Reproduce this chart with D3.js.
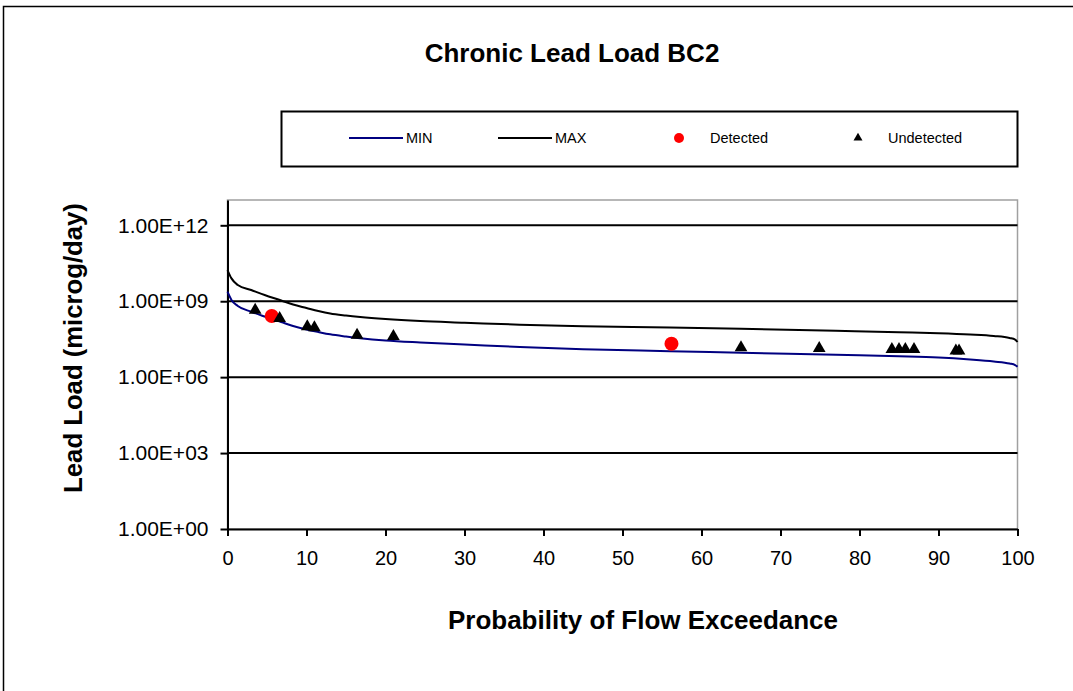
<!DOCTYPE html>
<html>
<head>
<meta charset="utf-8">
<script src="https://cdn.jsdelivr.net/npm/d3@7"></script>
<style>
  html, body { margin: 0; padding: 0; background: #fff; }
  svg { display: block; font-family: "Liberation Sans", Arial, sans-serif; }
</style>
</head>
<body>
<svg id="chart" width="1073" height="691"></svg>
<script>
// ---- data ----
const titleText = "Chronic Lead Load BC2";
const xTitle = "Probability of Flow Exceedance";
const yTitle = "Lead Load (microg/day)";

const xTicks = [0, 10, 20, 30, 40, 50, 60, 70, 80, 90, 100];
const yTicks = [1e0, 1e3, 1e6, 1e9, 1e12];
const yTickLabels = ["1.00E+00", "1.00E+03", "1.00E+06", "1.00E+09", "1.00E+12"];

const curvePct = [0, 0.5, 1.3, 3, 4.7, 6.8, 8.3, 10, 11.5, 13, 15, 16.8, 20, 24.4, 30, 37, 45, 56, 65, 77, 85, 90, 94, 97, 99, 99.7, 100];
const maxLoad = [1.71e10, 8.0e9, 4.37e9, 2.77e9, 1.76e9, 1.07e9, 7.4e8, 5.4e8, 4.1e8, 3.27e8, 2.72e8, 2.38e8, 1.98e8, 1.65e8, 1.42e8, 1.18e8, 1.03e8, 9.1e7, 8.1e7, 6.8e7, 5.97e7, 5.45e7, 4.84e7, 4.22e7, 3.52e7, 3.07e7, 2.45e7];
const minLoad = [2.38e9, 1.12e9, 6.5e8, 3.85e8, 2.49e8, 1.51e8, 1.05e8, 7.6e7, 6.07e7, 4.93e7, 4.04e7, 3.46e7, 2.8e7, 2.34e7, 1.95e7, 1.55e7, 1.27e7, 1.06e7, 9.2e6, 7.6e6, 6.7e6, 5.97e6, 4.98e6, 4.15e6, 3.46e6, 3.02e6, 2.58e6];

const detectedPct = [5.6, 56.2];
const detectedLoad = [2.6e8, 2.1e7];

const undetectedPct = [3.5, 6.6, 10.1, 11.0, 16.4, 21.0, 65.0, 74.9, 84.1, 85.0, 85.8, 86.9, 92.2, 92.6];
const undetectedLoad = [4.5e8, 2.1e8, 1.0e8, 9.1e7, 4.6e7, 4.1e7, 1.48e7, 1.38e7, 1.26e7, 1.26e7, 1.26e7, 1.26e7, 1.1e7, 1.1e7];

const legendItems = ["MIN", "MAX", "Detected", "Undetected"];

// ---- layout ----
const svg = d3.select("#chart");
const L = 227.5, R = 1017.5, T = 200, B = 529;

const x = d3.scaleLinear().domain([0, 100]).range([L, R]);
const y = d3.scaleLog().domain([1, 1e13]).range([B, T]);

// outer border
svg.append("rect").attr("x", 3.5).attr("y", 6.5).attr("width", 1100).attr("height", 720)
  .attr("fill", "none").attr("stroke", "#000").attr("stroke-width", 1.5);

// title
svg.append("text").attr("x", 572).attr("y", 62).attr("text-anchor", "middle")
  .attr("font-size", 26).attr("font-weight", "bold").text(titleText);

// plot frame (gray top/right)
svg.append("rect").attr("x", L).attr("y", T).attr("width", R - L).attr("height", B - T)
  .attr("fill", "none").attr("stroke", "#a0a0a0").attr("stroke-width", 1.5);

// gridlines
svg.append("g").selectAll("line").data(yTicks.slice(1)).join("line")
  .attr("x1", L).attr("x2", R).attr("y1", d => y(d)).attr("y2", d => y(d))
  .attr("stroke", "#000").attr("stroke-width", 2);

// y axis
const yAxis = d3.axisLeft(y).tickValues(yTicks).tickFormat((d, i) => yTickLabels[i])
  .tickSizeInner(7).tickSizeOuter(0).tickPadding(12);
const gy = svg.append("g").attr("transform", `translate(${L},0)`).call(yAxis);
gy.select(".domain").attr("stroke", "#000").attr("stroke-width", 2);
gy.selectAll(".tick line").attr("stroke", "#000").attr("stroke-width", 2);
gy.selectAll(".tick text").attr("font-size", 21).attr("fill", "#000")
  .attr("font-family", "Liberation Sans, Arial, sans-serif");

// x axis
const xAxis = d3.axisBottom(x).tickValues(xTicks).tickSizeInner(7).tickSizeOuter(0).tickPadding(15);
const gx = svg.append("g").attr("transform", `translate(0,${B})`).call(xAxis);
gx.select(".domain").attr("stroke", "#000").attr("stroke-width", 2);
gx.selectAll(".tick line").attr("stroke", "#000").attr("stroke-width", 2);
gx.selectAll(".tick text").attr("font-size", 20).attr("fill", "#000")
  .attr("font-family", "Liberation Sans, Arial, sans-serif");

// axis titles
svg.append("text").attr("x", 643).attr("y", 629).attr("text-anchor", "middle")
  .attr("font-size", 26).attr("font-weight", "bold").text(xTitle);
svg.append("text").attr("transform", "translate(82,348) rotate(-90)").attr("text-anchor", "middle")
  .attr("font-size", 25.7).attr("font-weight", "bold").text(yTitle);

// curves
const line = d3.line().x(d => x(d[0])).y(d => y(d[1])).curve(d3.curveMonotoneX);
svg.append("path").datum(curvePct.map((p, i) => [p, maxLoad[i]]))
  .attr("d", line).attr("fill", "none").attr("stroke", "#000").attr("stroke-width", 2);
svg.append("path").datum(curvePct.map((p, i) => [p, minLoad[i]]))
  .attr("d", line).attr("fill", "none").attr("stroke", "#000080").attr("stroke-width", 2);

// detected points
svg.append("g").selectAll("circle").data(detectedPct.map((p, i) => [p, detectedLoad[i]])).join("circle")
  .attr("cx", d => x(d[0])).attr("cy", d => y(d[1])).attr("r", 7).attr("fill", "#ff0000");

// undetected points
const tri = d3.symbol().type(d3.symbolTriangle).size(70);
svg.append("g").selectAll("path").data(undetectedPct.map((p, i) => [p, undetectedLoad[i]])).join("path")
  .attr("d", tri).attr("transform", d => `translate(${x(d[0])},${y(d[1])})`).attr("fill", "#000");

// legend
const lg = svg.append("g");
lg.append("rect").attr("x", 281.5).attr("y", 111.5).attr("width", 736).attr("height", 55)
  .attr("fill", "#fff").attr("stroke", "#000").attr("stroke-width", 2);
const ly = 138;
lg.append("line").attr("x1", 349).attr("x2", 403).attr("y1", ly).attr("y2", ly)
  .attr("stroke", "#000080").attr("stroke-width", 2);
lg.append("line").attr("x1", 498).attr("x2", 552).attr("y1", ly).attr("y2", ly)
  .attr("stroke", "#000").attr("stroke-width", 2);
lg.append("circle").attr("cx", 679).attr("cy", ly).attr("r", 5).attr("fill", "#ff0000");
lg.append("path").attr("d", d3.symbol().type(d3.symbolTriangle).size(35))
  .attr("transform", `translate(858,${ly})`).attr("fill", "#000");
const legX = [406, 555, 710, 888];
lg.selectAll("text.leg").data(legendItems).join("text").attr("class", "leg")
  .attr("x", (d, i) => legX[i]).attr("y", ly + 5).attr("font-size", 14.5).text(d => d);
</script>
</body>
</html>
